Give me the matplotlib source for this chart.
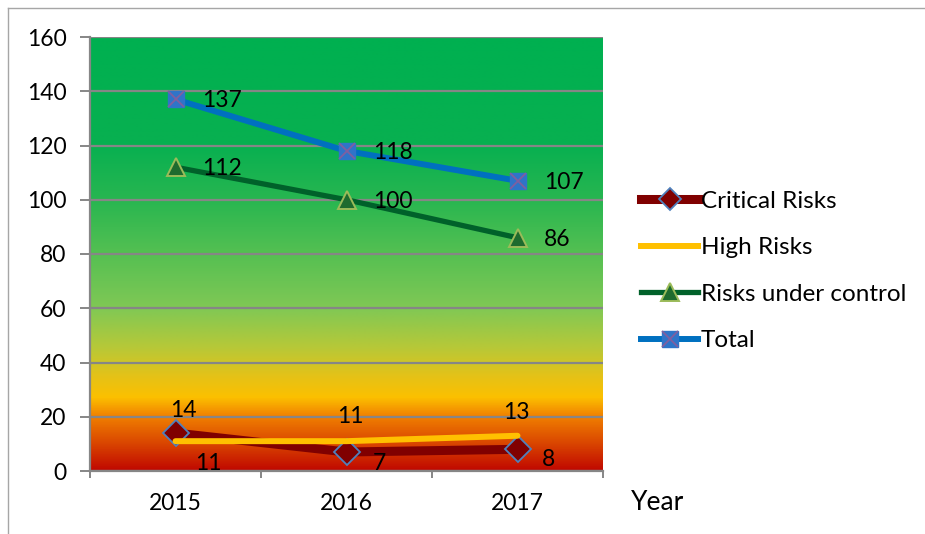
import numpy as np
import matplotlib
matplotlib.use("Agg")
import matplotlib.pyplot as plt
from matplotlib.colors import LinearSegmentedColormap
from matplotlib.lines import Line2D
from matplotlib.legend_handler import HandlerTuple

plt.rcParams['font.family'] = ['Lato', 'DejaVu Sans']

# ---- data ----
years = ["2015", "2016", "2017"]
critical = [14, 7, 8]
high = [11, 11, 13]
under_control = [112, 100, 86]
total = [137, 118, 107]
y_ticks = [0, 20, 40, 60, 80, 100, 120, 140, 160]

W, H, DPI = 925, 534, 100
fig = plt.figure(figsize=(W / DPI, H / DPI), dpi=DPI)
ax = fig.add_axes([90 / W, 1 - 471 / H, (603 - 90) / W, (471 - 37) / H])

x = np.arange(len(years))
ax.set_xlim(-0.5, len(years) - 0.5)
ax.set_ylim(0, 160)

# background gradient: red at the bottom through orange/yellow to green at the top
stops = [
    (0 / 160, (192, 8, 0)),
    (10 / 160, (218, 70, 0)),
    (20 / 160, (240, 128, 0)),
    (27 / 160, (252, 192, 0)),
    (35 / 160, (228, 194, 24)),
    (45 / 160, (185, 200, 55)),
    (60 / 160, (128, 200, 85)),
    (80 / 160, (85, 192, 82)),
    (100 / 160, (40, 182, 80)),
    (120 / 160, (8, 176, 80)),
    (160 / 160, (0, 176, 80)),
]
cmap = LinearSegmentedColormap.from_list(
    "risk_bg", [(p, tuple(c / 255 for c in rgb)) for p, rgb in stops])
grad = np.linspace(0, 1, 512).reshape(-1, 1)
ax.imshow(grad, cmap=cmap, aspect="auto", origin="lower",
          extent=[-0.5, len(years) - 0.5, 0, 160], zorder=0, interpolation="bilinear")

# gridlines
for v in y_ticks:
    ax.axhline(v, color="#868686", lw=1.6, zorder=1)

# series
ax.plot(x, critical, color="#800000", lw=6.5, solid_capstyle="round",
        marker="D", ms=13, mfc="#800000", mec="#4F81BD", mew=1.3, zorder=3)
ax.plot(x, high, color="#FFC000", lw=4.3, solid_capstyle="round", zorder=4)
ax.plot(x, under_control, color="#00612A", lw=3.8, solid_capstyle="round",
        marker="^", ms=13, mfc="#1E6B2E", mec="#9BBB59", mew=1.4, zorder=5)
ax.plot(x, total, color="#0070C0", lw=4.3, solid_capstyle="round",
        marker="s", ms=12, mfc="#2F74C8", mec="#2F74C8", zorder=6)
ax.plot(x, total, ls="none", marker="x", ms=11, mec="#7F5FA0", mew=1.3, zorder=7)

# value labels
FS = 16.5
lab_kw = dict(textcoords="offset points", fontsize=FS, color="black", zorder=10)
for xi, v in zip(x, total):
    ax.annotate(str(v), (xi, v), xytext=(19, -1), ha="left", va="center", **lab_kw)
for xi, v in zip(x, under_control):
    ax.annotate(str(v), (xi, v), xytext=(19, -1), ha="left", va="center", **lab_kw)
crit_off = [(6, 16), (24, -8), (22, -7)]
high_off = [(24, -16), (3, 18), (-1, 17)]
for xi, v, off in zip(x, critical, crit_off):
    ax.annotate(str(v), (xi, v), xytext=off, ha="center", va="center", **lab_kw)
for xi, v, off in zip(x, high, high_off):
    ax.annotate(str(v), (xi, v), xytext=off, ha="center", va="center", **lab_kw)

# axes styling
for s in ("top", "right"):
    ax.spines[s].set_visible(False)
for s in ("left", "bottom"):
    ax.spines[s].set_color("#868686")
    ax.spines[s].set_linewidth(1.6)
    ax.spines[s].set_zorder(2)

ax.set_yticks(y_ticks)
ax.tick_params(axis="y", direction="out", length=7, width=1.4, color="#868686",
               labelsize=FS, pad=10)
ax.set_xticks(np.arange(-0.5, len(years)), labels=[""] * (len(years) + 1))
ax.set_xticks(x, labels=years, minor=True)
ax.tick_params(axis="x", which="major", direction="out", length=5, width=1.4,
               color="#868686")
ax.tick_params(axis="x", which="minor", length=0, labelsize=FS, pad=16)

fig.text(658 / W, 1 - 503 / H, "Year", ha="center", va="center", fontsize=19)

# legend
h_crit = Line2D([], [], color="#800000", lw=6.5, marker="D", ms=11,
                mfc="#800000", mec="#4F81BD", mew=1.3)
h_high = Line2D([], [], color="#FFC000", lw=4.3)
h_ctrl = Line2D([], [], color="#00612A", lw=3.8, marker="^", ms=13,
                mfc="#1E6B2E", mec="#9BBB59", mew=1.4)
h_tot_a = Line2D([], [], color="#0070C0", lw=4.3, marker="s", ms=12,
                 mfc="#2F74C8", mec="#2F74C8")
h_tot_b = Line2D([], [], ls="none", marker="x", ms=11, mec="#7F5FA0", mew=1.3)
fig.legend([h_crit, h_high, h_ctrl, (h_tot_a, h_tot_b)],
           ["Critical Risks", "High Risks", "Risks under control", "Total"],
           handler_map={tuple: HandlerTuple(ndivide=1)},
           loc="center left", bbox_to_anchor=(641 / W, 1 - 271 / H),
           frameon=False, fontsize=17.5, handlelength=2.35, handletextpad=0.1,
           labelspacing=1.05, borderpad=0, borderaxespad=0)

# chart frame (top and left edges)
fig.add_artist(Line2D([8 / W, 1], [1 - 8 / H, 1 - 8 / H], color="#A6A6A6", lw=1.0))
fig.add_artist(Line2D([8 / W, 8 / W], [0, 1 - 8 / H], color="#A6A6A6", lw=1.0))

fig.savefig("out.png", dpi=DPI)
